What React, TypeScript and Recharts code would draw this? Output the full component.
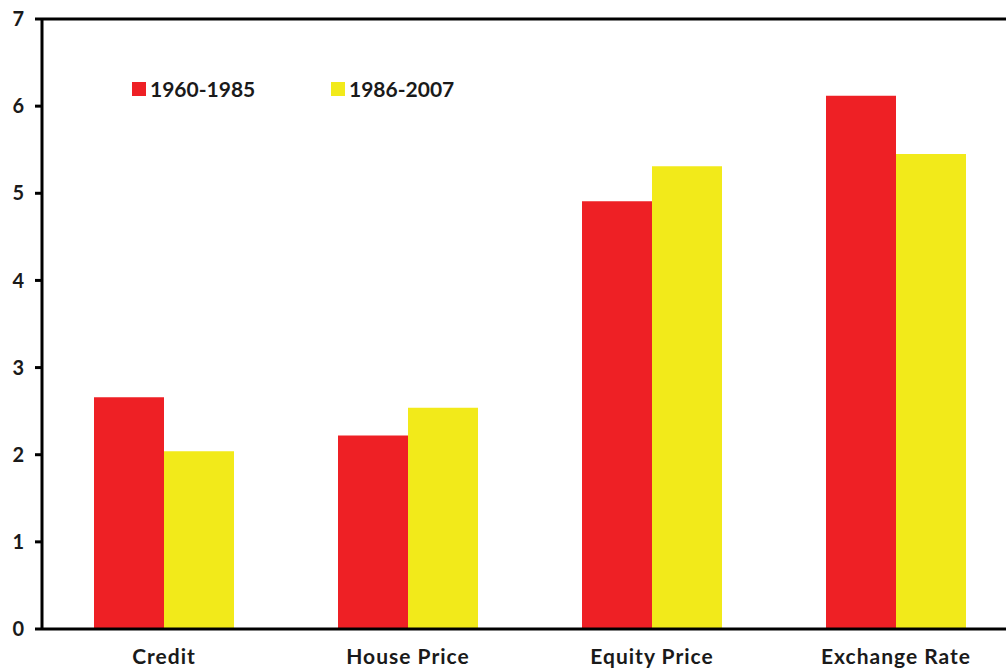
import React from "react";
import { BarChart, Bar, XAxis, YAxis, ReferenceLine } from "recharts";

// Average length of cycles by variable and sub-period
const categories = ["Credit", "House Price", "Equity Price", "Exchange Rate"];
const early = [2.66, 2.22, 4.91, 6.12]; // 1960-1985
const late = [2.04, 2.54, 5.31, 5.45]; // 1986-2007
const yTicks = [0, 1, 2, 3, 4, 5, 6, 7];
const boundaryTicks = [0, 1, 2, 3, 4];

const RED = "#EE2025";
const YELLOW = "#F2EA1A";
const INK = "#1a1a1a";
const FONT = "Lato, 'Open Sans', sans-serif";

const data = categories.map((name, i) => ({ name, early: early[i], late: late[i] }));

function CategoryTick({ x, y, payload }: any) {
  return (
    <text
      x={x}
      y={y}
      dy={26}
      textAnchor="middle"
      fontFamily={FONT}
      fontWeight={700}
      fontSize={21}
      letterSpacing={1}
      fill={INK}
    >
      {payload.value}
    </text>
  );
}

function LegendItem({ color, label, left }: { color: string; label: string; left: number }) {
  return (
    <div style={{ position: "absolute", left, top: 78, display: "flex", alignItems: "center" }}>
      <span style={{ width: 14, height: 14, background: color, display: "inline-block", marginRight: 4 }} />
      <span style={{ fontFamily: FONT, fontWeight: 700, fontSize: 21, color: INK, lineHeight: "22px" }}>{label}</span>
    </div>
  );
}

export default function App() {
  return (
    <div style={{ position: "fixed", left: 0, top: 0, width: 1006, height: 670, overflow: "hidden", background: "#fff" }}>
      <BarChart
        width={1018}
        height={670}
        data={data}
        margin={{ top: 19, right: 0, bottom: 0, left: 0 }}
        barCategoryGap={52}
        barGap={0}
      >
        <YAxis
          domain={[0, 7]}
          ticks={yTicks}
          width={42}
          interval={0}
          axisLine={{ stroke: "#000", strokeWidth: 3 }}
          tickLine={{ stroke: "#000", strokeWidth: 3 }}
          tickSize={7}
          tickMargin={11}
          tick={{ fontFamily: FONT, fontWeight: 700, fontSize: 20, fill: INK }}
        />
        {/* inner axis: plain line with ticks on the category boundaries */}
        <XAxis
          xAxisId={0}
          type="number"
          domain={[0, 4]}
          ticks={boundaryTicks}
          height={1}
          axisLine={{ stroke: "#000", strokeWidth: 3 }}
          tickLine={{ stroke: "#000", strokeWidth: 3 }}
          tickSize={7}
          tick={false}
        />
        {/* outer axis: category labels only */}
        <XAxis
          xAxisId={1}
          dataKey="name"
          height={40}
          axisLine={false}
          tickLine={false}
          interval={0}
          tick={<CategoryTick />}
        />
        <ReferenceLine xAxisId={1} y={7} stroke="#000" strokeWidth={3} />
        <Bar xAxisId={1} dataKey="early" name="1960-1985" fill={RED} isAnimationActive={false} />
        <Bar xAxisId={1} dataKey="late" name="1986-2007" fill={YELLOW} isAnimationActive={false} />
      </BarChart>
      <LegendItem color={RED} label="1960-1985" left={132} />
      <LegendItem color={YELLOW} label="1986-2007" left={331} />
    </div>
  );
}
